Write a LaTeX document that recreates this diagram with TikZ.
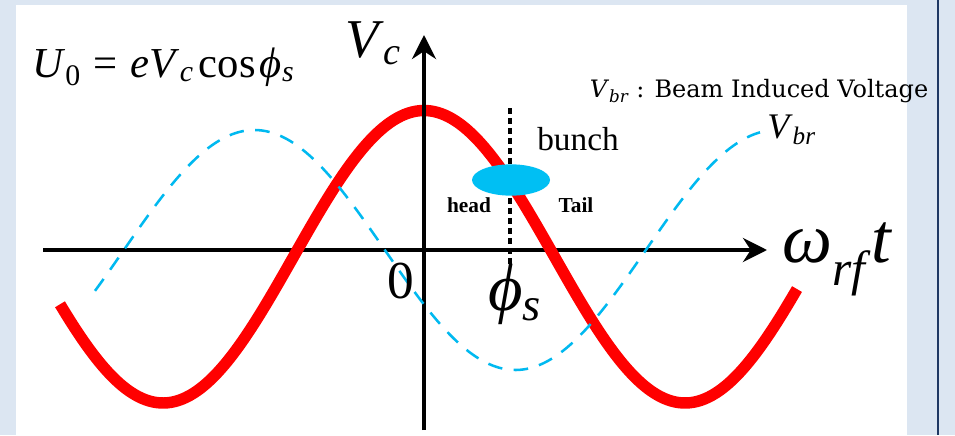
\documentclass[tikz,border=0pt]{standalone}
\usepackage{fontspec}
\setmainfont{Liberation Serif}
\newfontfamily\legendfont{DejaVu Serif}
\usetikzlibrary{arrows.meta,shapes.geometric}
\definecolor{panelblue}{RGB}{220,230,242}
\definecolor{framenavy}{RGB}{31,56,100}
\definecolor{bunchblue}{RGB}{0,191,243}
\definecolor{vbrblue}{RGB}{0,185,240}
\newcommand\symb[1]{\textit{#1}}
\newcommand\low[1]{\textsubscript{#1}}
\newcommand\phis{\symb{\symbol{"03D5}}}
\tikzset{
  axis/.style={line width=3.4pt, -{Stealth[length=18pt,width=18pt]}},
  lbl/.style={inner sep=0pt, anchor=base west}
}
\begin{document}
\begin{tikzpicture}[x=0.75pt, y=-0.75pt]
\useasboundingbox (0,0) rectangle (955,435);
\fill[panelblue] (0,0) rectangle (955,435);
\fill[white] (16,5) rectangle (907,435);
\draw[framenavy, line width=1.5pt] (937.5,0) -- (937.5,435);
\coordinate (xl) at (43,250);
\coordinate (xr) at (767,250);
\coordinate (yb) at (424,430);
\coordinate (yt) at (424,35);
\draw [axis] (xl) -- (xr);
\draw[red, line width=8.6pt, domain = 60:797, samples=200, smooth] plot (\x,{256.75 - 146.25*cos((\x-424)/522*360)});
\draw [axis] (yb) -- (yt);
\draw[vbrblue, line width=1.9pt, dash pattern=on 11pt off 8.5pt, domain = 95:760, samples=200, smooth] plot (\x,{250 - 120*cos((\x-424)/522*360 + 117)});
\coordinate (phitop) at (510,108);
\coordinate (phibot) at (510,265);
\draw [line width=3pt, dash pattern=on 4.5pt off 3pt] (phitop) -- (phibot);
\node [ellipse, fill=bunchblue, minimum width=58.5pt, minimum height=23.5pt, inner sep=0pt] (bunchdot) at (511,180) {};
\node [lbl] (u0) at (32,77) {\fontsize{32}{36}\selectfont \symb{U}\low{0}\hspace{0.3em}=\hspace{0.3em}\symb{eV}\low{\symb{c}}\hspace{0.12em}cos\hspace{0.1em}\phis\low{\symb{s}}};
\node [lbl] (vc) at (345,58) {\fontsize{41}{48}\selectfont \symb{V}\low{\symb{c}}};
\node [lbl] (wrf) at (782,262) {\fontsize{53}{60}\selectfont \symb{ω}\low{\symb{rf}}\symb{t}};
\node [lbl] (zero) at (387,298) {\fontsize{40}{48}\selectfont 0};
\node [lbl, anchor=center] (phisym) at (515,294) {\fontsize{50}{56}\selectfont \phis\low{\symb{s}}};
\node [lbl] (bunchlbl) at (537,150) {\fontsize{25}{30}\selectfont bunch};
\node [lbl, anchor=center] (head) at (469,205) {\fontsize{16}{19}\selectfont\bfseries head};
\node [lbl, anchor=center] (tail) at (576,205) {\fontsize{16}{19}\selectfont\bfseries Tail};
\node [lbl] (vbr) at (767,138) {\fontsize{27}{30}\selectfont \symb{V}\low{\symb{br}}};
\node [lbl, anchor=center] (legend) at (759,91) {\legendfont\fontsize{18}{22}\selectfont\textit{V}\textsubscript{\itshape br} : Beam Induced Voltage};
\end{tikzpicture}
\end{document}
